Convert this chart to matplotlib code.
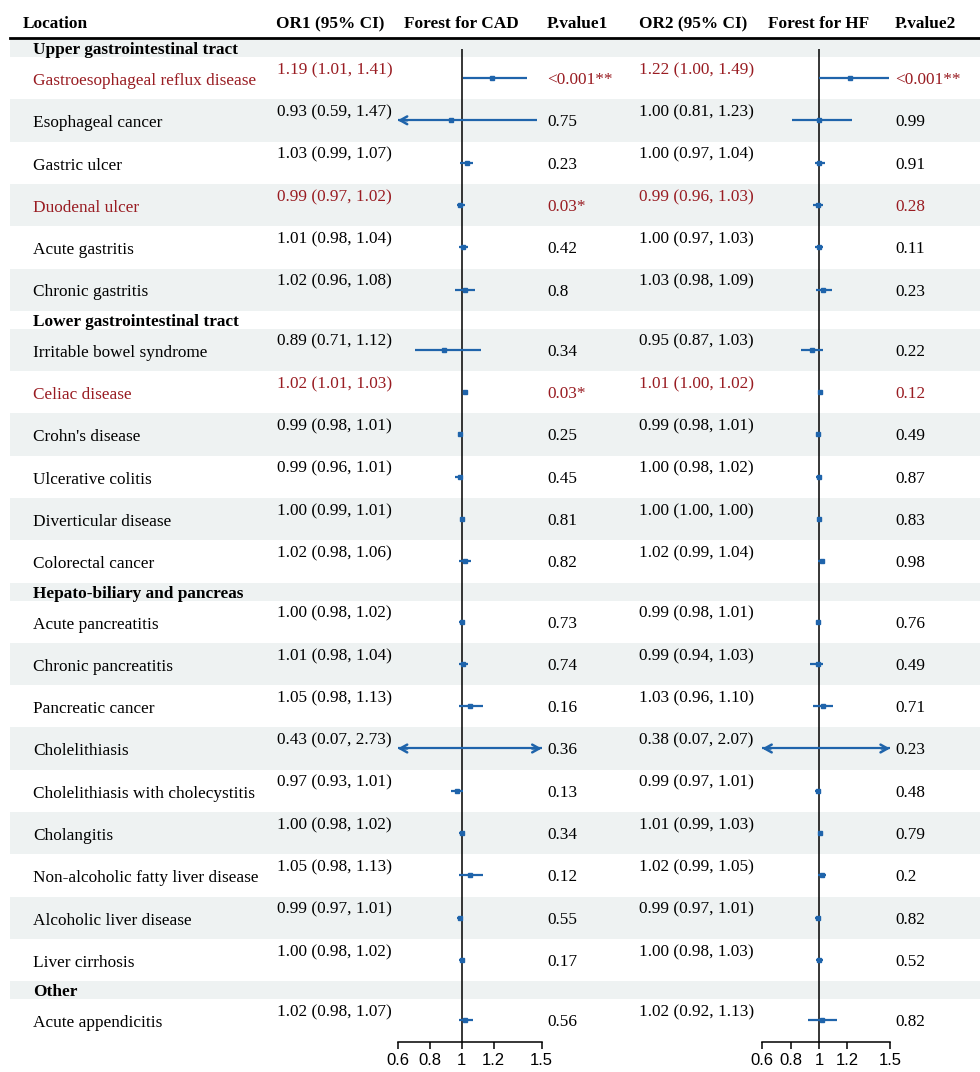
import numpy as np
import matplotlib.pyplot as plt
from matplotlib.patches import Rectangle

group_titles = ['Upper gastrointestinal tract', 'Lower gastrointestinal tract',
                'Hepato-biliary and pancreas', 'Other']
group_sizes = [6, 6, 9, 1]

locations = ['Gastroesophageal reflux disease', 'Esophageal cancer', 'Gastric ulcer',
             'Duodenal ulcer', 'Acute gastritis', 'Chronic gastritis',
             'Irritable bowel syndrome', 'Celiac disease', "Crohn's disease",
             'Ulcerative colitis', 'Diverticular disease', 'Colorectal cancer',
             'Acute pancreatitis', 'Chronic pancreatitis', 'Pancreatic cancer',
             'Cholelithiasis', 'Cholelithiasis with cholecystitis', 'Cholangitis',
             'Non-alcoholic fatty liver disease', 'Alcoholic liver disease',
             'Liver cirrhosis', 'Acute appendicitis']

or1 = [1.19, 0.93, 1.03, 0.99, 1.01, 1.02, 0.89, 1.02, 0.99, 0.99, 1.00, 1.02,
       1.00, 1.01, 1.05, 0.43, 0.97, 1.00, 1.05, 0.99, 1.00, 1.02]
lo1 = [1.01, 0.59, 0.99, 0.97, 0.98, 0.96, 0.71, 1.01, 0.98, 0.96, 0.99, 0.98,
       0.98, 0.98, 0.98, 0.07, 0.93, 0.98, 0.98, 0.97, 0.98, 0.98]
hi1 = [1.41, 1.47, 1.07, 1.02, 1.04, 1.08, 1.12, 1.03, 1.01, 1.01, 1.01, 1.06,
       1.02, 1.04, 1.13, 2.73, 1.01, 1.02, 1.13, 1.01, 1.02, 1.07]
p1 = ['<0.001**', '0.75', '0.23', '0.03*', '0.42', '0.8', '0.34', '0.03*', '0.25',
      '0.45', '0.81', '0.82', '0.73', '0.74', '0.16', '0.36', '0.13', '0.34',
      '0.12', '0.55', '0.17', '0.56']

or2 = [1.22, 1.00, 1.00, 0.99, 1.00, 1.03, 0.95, 1.01, 0.99, 1.00, 1.00, 1.02,
       0.99, 0.99, 1.03, 0.38, 0.99, 1.01, 1.02, 0.99, 1.00, 1.02]
lo2 = [1.00, 0.81, 0.97, 0.96, 0.97, 0.98, 0.87, 1.00, 0.98, 0.98, 1.00, 0.99,
       0.98, 0.94, 0.96, 0.07, 0.97, 0.99, 0.99, 0.97, 0.98, 0.92]
hi2 = [1.49, 1.23, 1.04, 1.03, 1.03, 1.09, 1.03, 1.02, 1.01, 1.02, 1.00, 1.04,
       1.01, 1.03, 1.10, 2.07, 1.01, 1.03, 1.05, 1.01, 1.03, 1.13]
p2 = ['<0.001**', '0.99', '0.91', '0.28', '0.11', '0.23', '0.22', '0.12', '0.49',
      '0.87', '0.83', '0.98', '0.76', '0.49', '0.71', '0.23', '0.48', '0.79',
      '0.2', '0.82', '0.52', '0.82']

highlight = ['Gastroesophageal reflux disease', 'Duodenal ulcer', 'Celiac disease']

ticks = [0.6, 0.8, 1, 1.2, 1.5]
tick_labels = ['0.6', '0.8', '1', '1.2', '1.5']

W, H = 980, 1072
SERIF = 'Liberation Serif'
FS = 12.4
RED = '#991c22'
BLUE = '#1f64ab'
BAND = '#eef2f2'

fig = plt.figure(figsize=(W / 100, H / 100), dpi=100)
ax = fig.add_axes([0, 0, 1, 1])
ax.set_xlim(0, W)
ax.set_ylim(H, 0)
ax.axis('off')

# row layout (pixel units)
HEAD_H, ROW_H = 18, 42.3
rows = []
y = 39
k = 0
for title, n in zip(group_titles, group_sizes):
    rows.append(('group', title, y, HEAD_H))
    y += HEAD_H
    for _ in range(n):
        rows.append(('item', k, y, ROW_H))
        k += 1
        y += ROW_H
bottom = y

# striped background
for j, (_, _, t, h) in enumerate(rows):
    if j % 2 == 0:
        ax.add_patch(Rectangle((10, t), W - 10, h, color=BAND, lw=0, zorder=0))

# header
hdr = dict(fontfamily=SERIF, fontsize=FS, fontweight='bold', va='center', ha='left')
ax.text(23, 24, 'Location', **hdr)
ax.text(276, 24, 'OR1 (95% CI)', **hdr)
ax.text(404, 24, 'Forest for CAD', **hdr)
ax.text(547, 24, 'P.value1', **hdr)
ax.text(639, 24, 'OR2 (95% CI)', **hdr)
ax.text(768, 24, 'Forest for HF', **hdr)
ax.text(895, 24, 'P.value2', **hdr)
ax.plot([10, W], [37.5, 37.5], color='black', lw=2)

txt = dict(fontfamily=SERIF, fontsize=FS, va='center', ha='left')
for kind, what, t, h in rows:
    if kind == 'group':
        ax.text(33, t + 11, what, fontweight='bold', **txt)
        continue
    c = RED if locations[what] in highlight else 'black'
    ax.text(33, t + 24, locations[what], color=c, **txt)
    ax.text(277, t + 13, f'{or1[what]:.2f} ({lo1[what]:.2f}, {hi1[what]:.2f})', color=c, **txt)
    ax.text(547, t + 23, p1[what], color=c, **txt)
    ax.text(639, t + 13, f'{or2[what]:.2f} ({lo2[what]:.2f}, {hi2[what]:.2f})', color=c, **txt)
    ax.text(895, t + 23, p2[what], color=c, **txt)


def forest(x0, x1, est, lo, hi):
    fa = fig.add_axes([x0 / W, 0, (x1 - x0) / W, 1])
    fa.set_xlim(0.6, 1.5)
    fa.set_ylim(H, 0)
    fa.patch.set_alpha(0)
    for s in ['top', 'left', 'right']:
        fa.spines[s].set_visible(False)
    fa.spines['bottom'].set_position(('data', bottom))
    fa.spines['bottom'].set_linewidth(1.1)
    fa.set_yticks([])
    fa.set_xticks(ticks)
    fa.set_xticklabels(tick_labels, fontfamily='Liberation Sans', fontsize=12)
    fa.tick_params(axis='x', length=4.8, width=1.1, pad=3.5)
    fa.vlines(1, 49, bottom, color='black', lw=1.1, zorder=1)
    for kind, what, t, h in rows:
        if kind != 'item':
            continue
        yc = t + 21
        a, b = max(lo[what], 0.6), min(hi[what], 1.5)
        fa.plot([a, b], [yc, yc], color=BLUE, lw=1.6, solid_capstyle='butt', zorder=2)
        fa.plot(est[what], yc, marker='s', ms=3, color=BLUE, zorder=3)
        arrow = dict(arrowstyle='->,head_length=0.5,head_width=0.28', color=BLUE,
                     lw=1.8, shrinkA=0, shrinkB=0)
        if lo[what] < 0.6:
            fa.annotate('', xy=(0.6, yc), xytext=(0.66, yc), arrowprops=arrow)
        if hi[what] > 1.5:
            fa.annotate('', xy=(1.5, yc), xytext=(1.44, yc), arrowprops=arrow)
    return fa


forest(461.7 - 0.4 * 160, 461.7 + 0.5 * 160, or1, lo1, hi1)
forest(819 - 0.4 * 142, 819 + 0.5 * 142, or2, lo2, hi2)

fig.savefig('out.png', dpi=100)
